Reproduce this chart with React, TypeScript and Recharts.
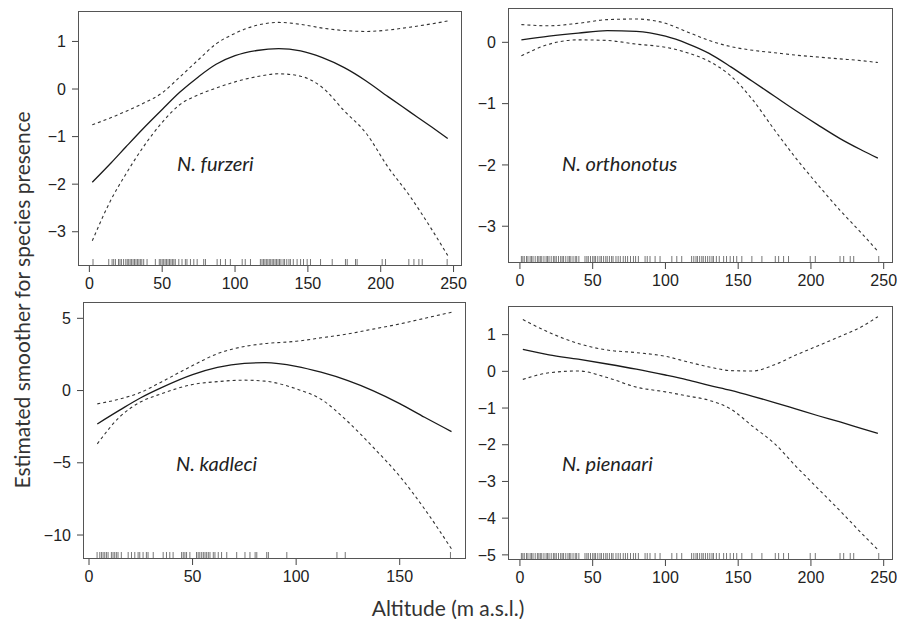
import React from "react";
import {
  ComposedChart,
  Line,
  Scatter,
  XAxis,
  YAxis,
} from "recharts";

const TICK_FONT = '"Liberation Sans", Arial, sans-serif';
const LABEL_FONT = 'Lato, "Open Sans", sans-serif';

// N. furzeri
const furzeriX = [2, 15, 25, 37, 50, 62, 75, 87, 100, 115, 130, 145, 160, 175, 190, 205, 220, 235, 246];
const furzeriFit = [-1.96, -1.55, -1.22, -0.83, -0.43, -0.07, 0.26, 0.52, 0.7, 0.81, 0.85, 0.8, 0.66, 0.45, 0.17, -0.16, -0.48, -0.8, -1.04];
const furzeriUpper = [-0.75, -0.6, -0.47, -0.3, -0.08, 0.25, 0.62, 0.95, 1.17, 1.34, 1.4, 1.36, 1.28, 1.23, 1.21, 1.24, 1.3, 1.37, 1.43];
const furzeriLower = [-3.19, -2.32, -1.79, -1.22, -0.7, -0.33, -0.12, 0.02, 0.15, 0.26, 0.32, 0.27, 0.03, -0.46, -0.93, -1.64, -2.25, -2.95, -3.5];
const furzeriRug = [
  2.5, 13.3, 15.6, 16.7, 17.9, 20, 21, 22, 23.5, 25, 26, 27, 28, 29, 30, 31, 32, 33, 34, 35, 36, 37.3, 39.6,
  45.3, 48, 49, 50, 51, 52, 53, 54, 55, 56, 57, 58, 59, 61.4, 63.6, 65.9, 67, 69.4, 71.7, 74, 78.5, 79.7,
  87.7, 90, 93.4, 96.8, 104.9, 107, 110.6, 117.4, 118.5, 119.5, 120.5, 121.5, 122.5, 123.5, 124.5, 125.5,
  126.5, 127.5, 128.5, 129.5, 130.5, 131.5, 133, 134, 135.5, 137, 138, 140, 142.6, 145, 147, 149.5, 151.8,
  158.7, 166.7, 175.8, 177, 182.7, 183.8, 201, 203.3, 219.3, 222.8, 226.2, 228.5, 245.6,
];

// N. orthonotus
const orthonotusX = [1, 20, 40, 60, 80, 100, 115, 130, 145, 160, 175, 190, 205, 220, 235, 246];
const orthonotusFit = [0.04, 0.1, 0.15, 0.19, 0.18, 0.1, -0.02, -0.18, -0.4, -0.64, -0.88, -1.12, -1.35, -1.57, -1.76, -1.89];
const orthonotusUpper = [0.29, 0.27, 0.31, 0.37, 0.38, 0.31, 0.17, 0.03, -0.07, -0.13, -0.17, -0.21, -0.24, -0.27, -0.3, -0.33];
const orthonotusLower = [-0.22, -0.03, 0.04, 0.03, -0.03, -0.08, -0.17, -0.31, -0.55, -0.94, -1.43, -1.9, -2.33, -2.74, -3.12, -3.41];
const orthonotusRug = [
  1, 2, 3, 4.5, 5.5, 7, 8, 9, 10.5, 12, 13, 14, 15, 16.5, 18, 19, 20, 21.5, 23, 24, 25, 26.5, 28, 29, 30,
  31.5, 33, 34, 35, 36.5, 38, 39, 40.5, 44.7, 46, 47, 48.5, 50, 51, 52, 53.5, 55, 56, 57.5, 59, 60, 61.5,
  63, 64, 66, 67.5, 69, 71, 72.5, 74, 76, 78, 79.5, 81.4, 86, 87.5, 89.4, 92.9, 96.3, 104.4, 107.8, 111.2,
  118, 119.5, 121, 122, 123.5, 125, 126, 127.5, 129, 130.5, 132, 133, 135, 137, 140, 142, 144.5, 146.8,
  149, 152.5, 159.4, 166.3, 175.5, 177.8, 181.2, 184.6, 199.5, 203, 220, 222.5, 227, 229.4, 246.6,
];

// N. kadleci
const kadleciX = [4, 15, 25, 35, 50, 62, 75, 85, 100, 112, 125, 137, 150, 162, 175];
const kadleciFit = [-2.31, -1.34, -0.5, 0.2, 1.1, 1.6, 1.88, 1.93, 1.68, 1.27, 0.69, 0.0, -0.9, -1.85, -2.84];
const kadleciUpper = [-0.92, -0.58, -0.12, 0.6, 1.73, 2.55, 3.05, 3.25, 3.41, 3.65, 3.92, 4.25, 4.61, 5.0, 5.42];
const kadleciLower = [-3.69, -1.8, -0.78, -0.22, 0.42, 0.62, 0.72, 0.65, 0.12, -0.6, -2.16, -3.9, -5.93, -8.2, -10.96];
const kadleciRug = [
  3.9, 5.2, 6, 6.8, 7.6, 8.4, 9.2, 10.8, 11.6, 12.4, 13.2, 14, 15.6, 18.9, 20.5, 22.1, 23.7, 24.5, 26.1,
  27.7, 28.5, 31, 35.8, 37.4, 39, 40.6, 44.7, 45.5, 46.3, 47.1, 48.7, 51.9, 52.7, 53.5, 54.4, 55.2, 56,
  56.8, 57.6, 58.4, 60, 60.8, 62.4, 64, 66.5, 71.3, 75.3, 77.7, 80.2, 81, 85.8, 86.6, 95.5, 119.7, 123.7, 174.5,
];

// N. pienaari
const pienaariX = [2, 20, 40, 60, 80, 100, 115, 130, 145, 160, 175, 190, 205, 220, 235, 246];
const pienaariFit = [0.6, 0.45, 0.33, 0.2, 0.06, -0.1, -0.23, -0.38, -0.52, -0.68, -0.85, -1.03, -1.21, -1.38, -1.56, -1.69];
const pienaariUpper = [1.41, 1.06, 0.76, 0.58, 0.51, 0.41, 0.26, 0.12, 0.02, 0.01, 0.18, 0.45, 0.7, 0.95, 1.22, 1.49];
const pienaariLower = [-0.22, -0.04, 0.01, -0.17, -0.43, -0.56, -0.67, -0.79, -1.03, -1.5, -1.97, -2.6, -3.2, -3.8, -4.42, -4.86];
const pienaariRug = orthonotusRug;

const toRows = (xs: number[], fit: number[], upper: number[], lower: number[]) =>
  xs.map((x, i) => ({ x, fit: fit[i], upper: upper[i], lower: lower[i] }));

const minus = (v: number) => String(v).replace("-", "\u2212");

type Box = { left: number; top: number; w: number; h: number };

function RugTick(props: any) {
  const { cx, cy } = props;
  if (cx == null || cy == null) return <g />;
  return <line x1={cx} x2={cx} y1={cy} y2={cy - 7} stroke="#777" strokeWidth={1} />;
}

function Panel({
  box,
  xDomain,
  yDomain,
  xTicks,
  yTicks,
  rows,
  rug,
  name,
  nameX,
  nameY,
}: {
  box: Box;
  xDomain: [number, number];
  yDomain: [number, number];
  xTicks: number[];
  yTicks: number[];
  rows: { x: number; fit: number; upper: number; lower: number }[];
  rug: number[];
  name: string;
  nameX: number;
  nameY: number;
}) {
  const rugData = rug.map((x) => ({ x, y: yDomain[0] }));
  const tick = { fill: "#222", fontSize: 16, fontFamily: TICK_FONT };
  return (
    <>
      <div style={{ position: "absolute", left: box.left - 60, top: box.top - 10 }}>
        <ComposedChart
          width={box.w + 70}
          height={box.h + 55}
          data={rows}
          margin={{ top: 10, right: 10, bottom: 10, left: 10 }}
        >
          <XAxis
            type="number"
            dataKey="x"
            domain={xDomain}
            ticks={xTicks}
            allowDataOverflow
            interval={0}
            axisLine={false}
            tickSize={6}
            tickMargin={6}
            height={35}
            tickLine={{ stroke: "#444" }}
            tick={tick}
          />
          <YAxis
            type="number"
            domain={yDomain}
            ticks={yTicks}
            allowDataOverflow
            interval={0}
            axisLine={false}
            tickSize={6}
            tickMargin={6}
            width={50}
            tickLine={{ stroke: "#444" }}
            tick={tick}
            tickFormatter={minus}
          />
          <Scatter data={rugData} dataKey="y" shape={RugTick} isAnimationActive={false} />
          <Line type="monotone" dataKey="upper" stroke="#333" strokeWidth={1.1} strokeDasharray="3 3" dot={false} isAnimationActive={false} />
          <Line type="monotone" dataKey="lower" stroke="#333" strokeWidth={1.1} strokeDasharray="3 3" dot={false} isAnimationActive={false} />
          <Line type="monotone" dataKey="fit" stroke="#1a1a1a" strokeWidth={1.3} dot={false} isAnimationActive={false} />
        </ComposedChart>
      </div>
      <div
        style={{
          position: "absolute",
          left: box.left,
          top: box.top,
          width: box.w,
          height: box.h,
          border: "1px solid #555",
          boxSizing: "border-box",
          pointerEvents: "none",
        }}
      />
      <div
        style={{
          position: "absolute",
          left: nameX,
          top: nameY,
          transform: "translateY(-50%)",
          fontFamily: LABEL_FONT,
          fontStyle: "italic",
          fontSize: 20,
          color: "#222",
          whiteSpace: "nowrap",
        }}
      >
        {name}
      </div>
    </>
  );
}

export default function App() {
  return (
    <div
      style={{
        position: "absolute",
        left: 0,
        top: 0,
        width: 897,
        height: 619,
        background: "#fff",
        overflow: "hidden",
      }}
    >
      <Panel
        box={{ left: 78, top: 11, w: 384, h: 255 }}
        xDomain={[-7.8, 255.8]}
        yDomain={[-3.72, 1.64]}
        xTicks={[0, 50, 100, 150, 200, 250]}
        yTicks={[-3, -2, -1, 0, 1]}
        rows={toRows(furzeriX, furzeriFit, furzeriUpper, furzeriLower)}
        rug={furzeriRug}
        name="N. furzeri"
        nameX={177}
        nameY={163}
      />
      <Panel
        box={{ left: 508, top: 8, w: 385, h: 255 }}
        xDomain={[-8.2, 256.4]}
        yDomain={[-3.6, 0.56]}
        xTicks={[0, 50, 100, 150, 200, 250]}
        yTicks={[-3, -2, -1, 0]}
        rows={toRows(orthonotusX, orthonotusFit, orthonotusUpper, orthonotusLower)}
        rug={orthonotusRug}
        name="N. orthonotus"
        nameX={562}
        nameY={163}
      />
      <Panel
        box={{ left: 83, top: 302, w: 383, h: 257 }}
        xDomain={[-2.9, 182]}
        yDomain={[-11.66, 6.13]}
        xTicks={[0, 50, 100, 150]}
        yTicks={[-10, -5, 0, 5]}
        rows={toRows(kadleciX, kadleciFit, kadleciUpper, kadleciLower)}
        rug={kadleciRug}
        name="N. kadleci"
        nameX={176}
        nameY={463}
      />
      <Panel
        box={{ left: 508, top: 306, w: 385, h: 254 }}
        xDomain={[-8.2, 256.4]}
        yDomain={[-5.14, 1.78]}
        xTicks={[0, 50, 100, 150, 200, 250]}
        yTicks={[-5, -4, -3, -2, -1, 0, 1]}
        rows={toRows(pienaariX, pienaariFit, pienaariUpper, pienaariLower)}
        rug={pienaariRug}
        name="N. pienaari"
        nameX={562}
        nameY={463}
      />
      <div
        style={{
          position: "absolute",
          left: 21,
          top: 300,
          transform: "translate(-50%, -50%) rotate(-90deg)",
          fontFamily: LABEL_FONT,
          fontSize: 21,
          color: "#333",
          whiteSpace: "nowrap",
        }}
      >
        Estimated smoother for species presence
      </div>
      <div
        style={{
          position: "absolute",
          left: 448,
          top: 607,
          transform: "translate(-50%, -50%)",
          fontFamily: LABEL_FONT,
          fontSize: 21,
          color: "#333",
          whiteSpace: "nowrap",
        }}
      >
        Altitude (m a.s.l.)
      </div>
    </div>
  );
}
